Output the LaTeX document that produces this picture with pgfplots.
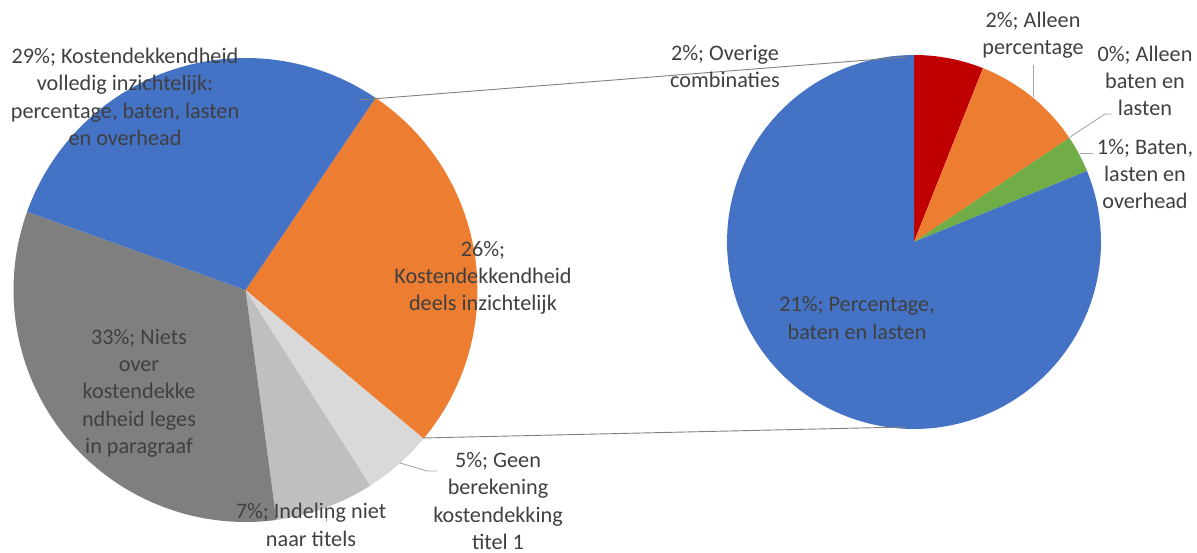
\documentclass[border=0pt]{standalone}
\usepackage{pgfplots}
\pgfplotsset{compat=1.18}
\usepackage{fontspec}
\setmainfont{Carlito}
\definecolor{cblue}{HTML}{4472C4}
\definecolor{corange}{HTML}{ED7D31}
\definecolor{clight}{HTML}{D9D9D9}
\definecolor{csilver}{HTML}{BFBFBF}
\definecolor{cdark}{HTML}{7F7F7F}
\definecolor{cred}{HTML}{C00000}
\definecolor{cgreen}{HTML}{70AD47}
\definecolor{ctext}{HTML}{404040}
\definecolor{cline}{HTML}{808080}
\definecolor{clead}{HTML}{A6A6A6}
\tikzset{lbl/.style={font=\fontsize{22.2}{27.3}\selectfont, text=ctext, align=center, inner sep=0pt}}
\begin{document}
\begin{tikzpicture}
% left pie values (percent), clockwise from the blue/orange boundary
\pgfmathsetmacro\La{55.9}
\pgfmathsetmacro\Lb{\La-26.6*3.6}
\pgfmathsetmacro\Lc{\Lb-4.9*3.6}
\pgfmathsetmacro\Ld{\Lc-6.9*3.6}
\pgfmathsetmacro\Le{\Ld-32.6*3.6}
\pgfmathsetmacro\Lf{\Le-29.0*3.6}
% right pie values (breakdown of the orange slice), clockwise from top
\pgfmathsetmacro\F{360/26.6}
\pgfmathsetmacro\Ra{90}
\pgfmathsetmacro\Rb{\Ra-1.6*\F}
\pgfmathsetmacro\Rc{\Rb-2.55*\F}
\pgfmathsetmacro\Rd{\Rc-0.0*\F}
\pgfmathsetmacro\Re{\Rd-0.85*\F}
\pgfmathsetmacro\Rf{\Re-21.6*\F}
\begin{axis}[
  width=1197pt, height=553pt, scale only axis,
  xmin=0, xmax=1197, ymin=0, ymax=553,
  hide axis, clip=false,
  every axis plot/.append style={samples=120},
]
\addplot[draw=none, forget plot] coordinates {(0,0) (1197,553)};
% left pie
\addplot[draw=none, fill=corange, domain=\Lb:\La] ({245.5+232*cos(x)},{263+232*sin(x)}) -- (axis cs:245.5,263) -- cycle;
\addplot[draw=none, fill=clight, domain=\Lc:\Lb] ({245.5+232*cos(x)},{263+232*sin(x)}) -- (axis cs:245.5,263) -- cycle;
\addplot[draw=none, fill=csilver, domain=\Ld:\Lc] ({245.5+232*cos(x)},{263+232*sin(x)}) -- (axis cs:245.5,263) -- cycle;
\addplot[draw=none, fill=cdark, domain=\Le:\Ld] ({245.5+232*cos(x)},{263+232*sin(x)}) -- (axis cs:245.5,263) -- cycle;
\addplot[draw=none, fill=cblue, domain=\Lf:\Le] ({245.5+232*cos(x)},{263+232*sin(x)}) -- (axis cs:245.5,263) -- cycle;
% right pie
\addplot[draw=none, fill=cred, domain=\Rb:\Ra] ({914+187*cos(x)},{311+187*sin(x)}) -- (axis cs:914,311) -- cycle;
\addplot[draw=none, fill=corange, domain=\Rc:\Rb] ({914+187*cos(x)},{311+187*sin(x)}) -- (axis cs:914,311) -- cycle;
\addplot[draw=none, fill=cgreen, domain=\Re:\Rd] ({914+187*cos(x)},{311+187*sin(x)}) -- (axis cs:914,311) -- cycle;
\addplot[draw=none, fill=cblue, domain=\Rf:\Re] ({914+187*cos(x)},{311+187*sin(x)}) -- (axis cs:914,311) -- cycle;
% connector lines
\addplot[cline, line width=0.9pt] coordinates {(359,453) (907,496)};
\addplot[cline, line width=0.9pt] coordinates {(423,115) (905,126)};
% leader lines
\addplot[clead, line width=0.9pt] coordinates {(400,90) (427,82) (437,82)};
\addplot[clead, line width=0.9pt] coordinates {(326,45) (326,31)};
\addplot[clead, line width=0.9pt] coordinates {(1033,488) (1033,456)};
\addplot[clead, line width=0.9pt] coordinates {(1070,416) (1105,439) (1112,439)};
\addplot[clead, line width=0.9pt] coordinates {(1080,400) (1093,400)};
% labels
\node[lbl] at (axis cs:125,456) {29\%; Kostendekkendheid\\volledig inzichtelijk:\\percentage, baten, lasten\\en overhead};
\node[lbl] at (axis cs:483,275) {26\%;\\Kostendekkendheid\\deels inzichtelijk};
\node[lbl] at (axis cs:139,160) {33\%; Niets\\over\\kostendekke\\ndheid leges\\in paragraaf};
\node[lbl] at (axis cs:311,28) {7\%; Indeling niet\\naar titels};
\node[lbl] at (axis cs:498,52) {5\%; Geen\\berekening\\kostendekking\\titel 1};
\node[lbl] at (axis cs:725,486.5) {2\%; Overige\\combinaties};
\node[lbl] at (axis cs:1033,517.5) {2\%; Alleen\\percentage};
\node[lbl] at (axis cs:1145,472) {0\%; Alleen\\baten en\\lasten};
\node[lbl] at (axis cs:1145,379) {1\%; Baten,\\lasten en\\overhead};
\node[lbl] at (axis cs:857,235) {21\%; Percentage,\\baten en lasten};
\end{axis}
\end{tikzpicture}
\end{document}
